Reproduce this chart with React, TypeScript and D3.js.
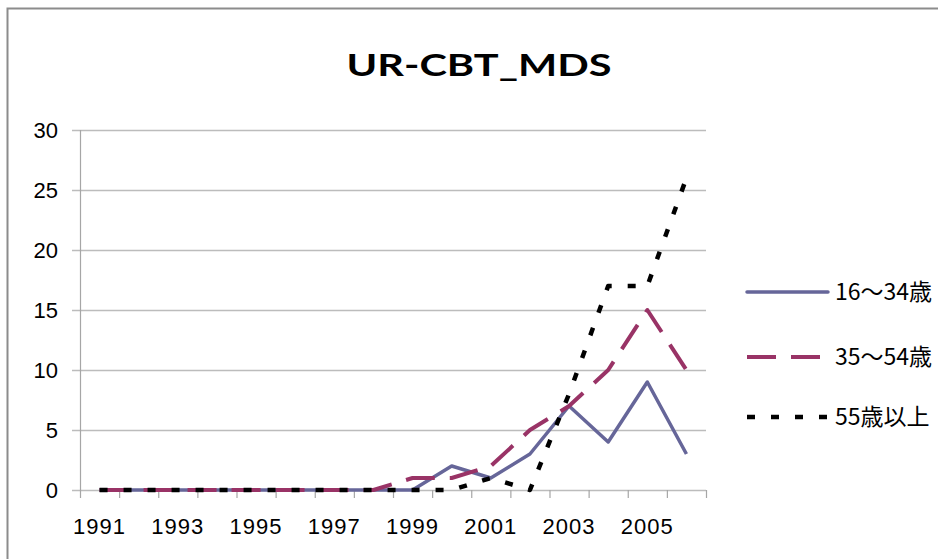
import React, { useEffect, useRef } from "react";
import * as d3 from "d3";

const years = ["1991","1992","1993","1994","1995","1996","1997","1998","1999","2000","2001","2002","2003","2004","2005","2006"];
const seriesNames = ["16～34歳", "35～54歳", "55歳以上"];
const young = [0,0,0,0,0,0,0,0,0,2,1,3,7,4,9,3];
const middle = [0,0,0,0,0,0,0,0,1,1,2,5,7,10,15,10];
const senior = [0,0,0,0,0,0,0,0,0,0,1,0,8,17,17,26];
const yTicks = [0,5,10,15,20,25,30];
const title = "UR-CBT_MDS";

const colors = ["#666699", "#993366", "#000000"];
const widths = [3.5, 4, 4.5];
const dashes = ["none", "29 15", "8 16"];

export default function App() {
  const ref = useRef<SVGSVGElement>(null);
  useEffect(() => {
    document.body.style.margin = "0";
    const svg = d3.select(ref.current);
    svg.selectAll("*").remove();
    const W = 938, H = 559;
    const x = d3.scaleBand().domain(years).range([80, 706]).padding(0);
    const y = d3.scaleLinear().domain([0, 30]).range([490, 130]);
    const cx = (d: string) => (x(d) as number) + x.bandwidth() / 2;

    svg.append("rect").attr("x", 0).attr("y", 0).attr("width", W).attr("height", H).attr("fill", "#fff");
    svg.append("rect").attr("x", 7.5).attr("y", 8.5).attr("width", 2000).attr("height", 2000)
      .attr("fill", "none").attr("stroke", "#8c8c8c").attr("stroke-width", 2);

    svg.append("text").attr("x", 479).attr("y", 76).attr("text-anchor", "middle")
      .attr("font-family", "Lato, 'Open Sans', sans-serif").attr("font-weight", "bold")
      .attr("font-size", 31).attr("textLength", 265).attr("lengthAdjust", "spacingAndGlyphs")
      .attr("fill", "#000").text(title);

    const g = svg.append("g");
    yTicks.forEach((t) => {
      g.append("line").attr("x1", 72).attr("x2", 706).attr("y1", y(t) + 0.5).attr("y2", y(t) + 0.5)
        .attr("stroke", "#bcbcbc").attr("stroke-width", 1.5);
      g.append("text").attr("x", 58).attr("y", y(t)).attr("dy", "0.36em").attr("text-anchor", "end")
        .attr("font-family", "'Liberation Sans', sans-serif").attr("font-size", 22).attr("fill", "#000").text(String(t));
    });
    g.append("line").attr("x1", 80.5).attr("x2", 80.5).attr("y1", 130).attr("y2", 490)
      .attr("stroke", "#a6a6a6").attr("stroke-width", 1.2);
    const bounds = years.map((d) => x(d) as number).concat([706]);
    bounds.forEach((b) => {
      g.append("line").attr("x1", b + 0.5).attr("x2", b + 0.5).attr("y1", 490).attr("y2", 498)
        .attr("stroke", "#a6a6a6").attr("stroke-width", 1.2);
    });
    years.forEach((yr, i) => {
      if (i % 2 === 0) {
        g.append("text").attr("x", cx(yr)).attr("y", 534).attr("text-anchor", "middle")
          .attr("font-family", "'Liberation Sans', sans-serif").attr("font-size", 22)
          .attr("letter-spacing", 1).attr("fill", "#000").text(yr);
      }
    });

    const line = d3.line<number>().x((_, i) => cx(years[i])).y((v) => y(v));
    [young, middle, senior].forEach((data, si) => {
      svg.append("path").attr("d", line(data) as string).attr("fill", "none")
        .attr("stroke", colors[si]).attr("stroke-width", widths[si])
        .attr("stroke-dasharray", dashes[si]).attr("stroke-linejoin", "round");
    });

    const ly = [292, 357, 417];
    seriesNames.forEach((name, i) => {
      svg.append("line").attr("x1", 747).attr("x2", 828).attr("y1", ly[i]).attr("y2", ly[i])
        .attr("stroke", colors[i]).attr("stroke-width", widths[i]).attr("stroke-dasharray", dashes[i])
        .attr("stroke-linecap", i === 0 ? "round" : "butt");
      svg.append("text").attr("x", 835).attr("y", ly[i]).attr("dy", "0.36em")
        .attr("font-family", "'Noto Sans CJK JP', sans-serif").attr("font-size", 23).attr("fill", "#000").text(name);
    });
  }, []);
  return <svg ref={ref} width={938} height={559} style={{ position: "fixed", left: 0, top: 0, display: "block" }} />;
}
